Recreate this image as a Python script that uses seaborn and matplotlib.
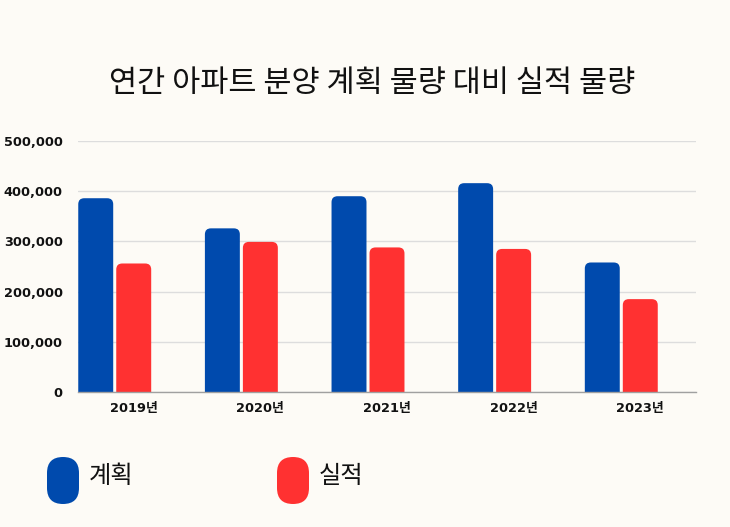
import numpy as np
import pandas as pd
import matplotlib
matplotlib.use("Agg")
import matplotlib.pyplot as plt
import seaborn as sns
from matplotlib.patches import FancyBboxPatch

years = ["2019년", "2020년", "2021년", "2022년", "2023년"]
plan = [386000, 326000, 390000, 416000, 258000]
actual = [256000, 299000, 288000, 285000, 185000]
series_names = ["계획", "실적"]
colors = ["#004AAD", "#FF3131"]
bg = "#FDFBF6"

df = pd.DataFrame({
    "year": years * 2,
    "value": plan + actual,
    "type": [series_names[0]] * len(years) + [series_names[1]] * len(years),
})

sns.set_theme(style="white")
plt.rcParams["font.family"] = ["Noto Sans CJK KR", "DejaVu Sans"]

fig = plt.figure(figsize=(7.3, 5.27), dpi=100, facecolor=bg)
ax = fig.add_axes([78 / 730, (527 - 392) / 527, (696 - 78) / 730, (392 - 141) / 527])
ax.set_facecolor(bg)

sns.barplot(data=df, x="year", y="value", hue="type", palette=colors,
            width=0.6, gap=0.08, ax=ax, legend=False, saturation=1)

ax.set_xlim(-0.29, 4.59)
ax.set_ylim(0, 500000)

# rounded tops: swap the plain rectangles for rounded ones,
# bottom corners hang below the axis and get clipped
xpx = 126.5            # px per x unit
ypx = 251 / 500000     # px per y unit
r = 6 / xpx
aspect = xpx / ypx
ry = r * aspect
for p in list(ax.patches):
    x, y = p.get_x(), p.get_y()
    w, h = p.get_width(), p.get_height()
    fc = p.get_facecolor()
    p.set_visible(False)
    ax.add_patch(FancyBboxPatch((x, y - 2 * ry), w, h + 2 * ry,
                                boxstyle=f"round,pad=0,rounding_size={r}",
                                mutation_aspect=aspect, fc=fc, ec="none", zorder=3))

yt = [0, 100000, 200000, 300000, 400000, 500000]
ax.set_yticks(yt)
ax.set_yticklabels([f"{v:,}" for v in yt])
ax.set_xticks(np.arange(len(years)) + 0.15)
ax.set_xticklabels(years)
ax.grid(axis="y", color="#DDDDDD", linewidth=1, zorder=0)
ax.set_axisbelow(True)
for s in ["left", "right", "top"]:
    ax.spines[s].set_visible(False)
ax.spines["bottom"].set_color("#A0A0A0")
ax.spines["bottom"].set_linewidth(1)
ax.spines["bottom"].set_zorder(4)
ax.tick_params(axis="both", length=0, labelsize=9.3, colors="#111111")
ax.tick_params(axis="y", pad=11)
ax.tick_params(axis="x", pad=7)
for lab in ax.get_xticklabels() + ax.get_yticklabels():
    lab.set_family(["DejaVu Sans", "Noto Sans CJK KR"])
    lab.set_fontweight("bold")
ax.set_xlabel("")
ax.set_ylabel("")

fig.text(372 / 730, 1 - 83 / 527, "연간 아파트 분양 계획 물량 대비 실적 물량",
         ha="center", va="center", fontsize=22, color="#111111")

# legend pills
for i, (name, c) in enumerate(zip(series_names, colors)):
    x0 = [47, 277][i]
    fig.add_artist(FancyBboxPatch((x0 / 100, 0.23), 0.32, 0.47,
                                  boxstyle="round,pad=0,rounding_size=0.16",
                                  transform=fig.dpi_scale_trans, fc=c, ec="none"))
    fig.text((x0 + 42) / 730, 51 / 527, name, ha="left", va="center",
             fontsize=17.5, color="#111111")

fig.savefig("out.png", dpi=100, facecolor=bg)
